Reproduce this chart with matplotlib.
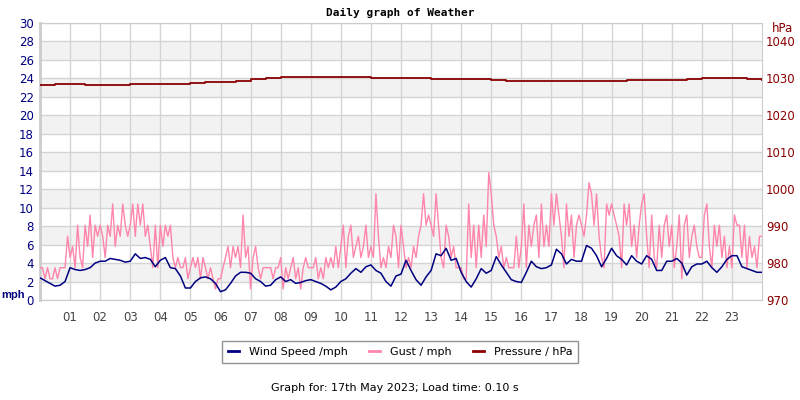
import matplotlib
matplotlib.use('Agg')
import matplotlib.pyplot as plt
import numpy as np

# Wind speed (mph), 10-minute readings, one row per hour
wind_speed = [
    2.4, 2.1, 1.8, 1.5, 1.6, 2.0,
    3.5, 3.3, 3.2, 3.3, 3.5, 4.0,
    4.2, 4.2, 4.5, 4.4, 4.3, 4.1,
    4.2, 5.0, 4.5, 4.6, 4.4, 3.6,
    4.3, 4.6, 3.5, 3.4, 2.6, 1.3,
    1.3, 2.0, 2.4, 2.5, 2.3, 1.8,
    0.9, 1.1, 1.8, 2.6, 3.0, 3.0,
    2.9, 2.3, 2.0, 1.5, 1.6, 2.2,
    2.5, 2.0, 2.2, 1.8, 1.9, 2.1,
    2.2, 2.0, 1.8, 1.5, 1.1, 1.4,
    2.0, 2.3, 2.9, 3.4, 3.0, 3.6,
    3.8, 3.2, 2.9, 2.0, 1.5, 2.6,
    2.8, 4.3, 3.2, 2.2, 1.6, 2.5,
    3.2, 5.0, 4.8, 5.6, 4.3, 4.5,
    3.0, 2.0, 1.4, 2.3, 3.4, 2.9,
    3.2, 4.7, 3.8, 3.0, 2.2, 2.0,
    1.9, 3.0, 4.2, 3.6, 3.4, 3.5,
    3.8, 5.5, 5.0, 3.9, 4.4, 4.2,
    4.2, 5.9, 5.6, 4.8, 3.6, 4.5,
    5.6, 4.8, 4.4, 3.8, 4.8, 4.2,
    3.9, 4.8, 4.4, 3.2, 3.2, 4.2,
    4.2, 4.5, 4.0, 2.7, 3.6, 3.9,
    3.9, 4.2, 3.5, 3.0, 3.6, 4.4,
    4.8, 4.8, 3.6, 3.4, 3.2, 3.0,
    3.0,
]

# Gust (mph), 5-minute readings, one row per hour
gust = [
    3.5, 3.5, 2.3, 3.5, 2.3, 2.3, 3.5, 2.3, 3.5, 3.5, 3.5, 6.9,
    4.6, 5.8, 3.5, 8.1, 4.6, 3.5, 8.1, 5.8, 9.2, 4.6, 8.1, 6.9,
    8.1, 6.9, 4.6, 8.1, 6.9, 10.4, 5.8, 8.1, 6.9, 10.4, 8.1, 6.9,
    8.1, 10.4, 6.9, 10.4, 8.1, 10.4, 6.9, 8.1, 5.8, 3.5, 8.1, 3.5,
    8.1, 5.8, 8.1, 6.9, 8.1, 4.6, 3.5, 4.6, 3.5, 3.5, 4.6, 2.3,
    3.5, 4.6, 3.5, 4.6, 2.3, 4.6, 3.5, 2.3, 3.5, 2.3, 1.2, 2.3,
    2.3, 3.5, 4.6, 5.8, 3.5, 5.8, 4.6, 5.8, 3.5, 9.2, 4.6, 5.8,
    1.2, 4.6, 5.8, 3.5, 2.3, 3.5, 3.5, 3.5, 3.5, 2.3, 3.5, 3.5,
    4.6, 1.2, 3.5, 2.3, 3.5, 4.6, 2.3, 3.5, 1.2, 3.5, 4.6, 3.5,
    3.5, 3.5, 4.6, 2.3, 3.5, 2.3, 4.6, 3.5, 4.6, 3.5, 5.8, 3.5,
    5.8, 8.1, 3.5, 6.9, 8.1, 4.6, 5.8, 6.9, 4.6, 5.8, 8.1, 4.6,
    5.8, 4.6, 11.5, 6.9, 3.5, 4.6, 3.5, 5.8, 4.6, 8.1, 6.9, 3.5,
    8.1, 5.8, 3.5, 4.6, 3.5, 5.8, 4.6, 6.9, 8.1, 11.5, 8.1, 9.2,
    8.1, 6.9, 11.5, 8.1, 4.6, 3.5, 8.1, 6.9, 4.6, 5.8, 3.5, 3.5,
    3.5, 2.3, 2.3, 10.4, 4.6, 8.1, 3.5, 8.1, 4.6, 9.2, 5.8, 13.8,
    11.5, 8.1, 6.9, 4.6, 5.8, 3.5, 4.6, 3.5, 3.5, 3.5, 6.9, 3.5,
    5.8, 10.4, 3.5, 8.1, 5.8, 8.1, 9.2, 4.6, 10.4, 5.8, 8.1, 5.8,
    11.5, 8.1, 11.5, 9.2, 6.9, 3.5, 10.4, 6.9, 9.2, 4.6, 8.1, 9.2,
    8.1, 6.9, 9.2, 12.7, 11.5, 8.1, 11.5, 6.9, 4.6, 3.5, 10.4, 9.2,
    10.4, 9.2, 8.1, 6.9, 3.5, 10.4, 8.1, 10.4, 5.8, 8.1, 4.6, 8.1,
    10.4, 11.5, 6.9, 3.5, 9.2, 4.6, 3.5, 8.1, 4.6, 8.1, 9.2, 5.8,
    8.1, 3.5, 5.8, 9.2, 2.3, 8.1, 9.2, 4.6, 6.9, 8.1, 5.8, 4.6,
    4.6, 9.2, 10.4, 5.8, 3.5, 8.1, 5.8, 8.1, 4.6, 6.9, 3.5, 5.8,
    3.5, 9.2, 8.1, 8.1, 4.6, 8.1, 3.5, 6.9, 4.6, 5.8, 3.5, 6.9,
    6.9,
]

# Pressure (hPa), half-hourly readings
pressure = [
    1028.2, 1028.4, 1028.4, 1028.3, 1028.2, 1028.2, 1028.4, 1028.4,
    1028.4, 1028.6, 1028.7, 1028.9, 1029.1, 1029.4, 1029.8, 1030.2,
    1030.3, 1030.3, 1030.3, 1030.3, 1030.3, 1030.3, 1030.1, 1030.1,
    1030.1, 1030.0, 1029.9, 1029.9, 1029.9, 1029.8, 1029.5, 1029.3,
    1029.2, 1029.2, 1029.2, 1029.2, 1029.3, 1029.4, 1029.4, 1029.5,
    1029.6, 1029.7, 1029.7, 1029.8, 1030.1, 1030.2, 1030.0, 1029.8,
    1029.7,
]

hour_labels = ['%02d' % h for h in range(1, 24)]
mph_ticks = list(range(0, 31, 2))
hpa_ticks = list(range(970, 1041, 10))

t_wind = np.linspace(0, 24, len(wind_speed))
t_gust = np.linspace(0, 24, len(gust))
t_pres = np.linspace(0, 24, len(pressure))

navy = '#000080'
pink = '#ff85aa'
maroon = '#8b0000'
grid_c = '#d4d4d4'

fig = plt.figure(figsize=(8, 4), dpi=100)
ax = fig.add_axes([0.05, 0.25, 0.9025, 0.6925])

# alternating bands
for lo in range(2, 30, 4):
    ax.axhspan(lo, lo + 2, color='#f2f2f2', zorder=0, lw=0)
for y in mph_ticks:
    ax.axhline(y, color=grid_c, lw=1, zorder=1)
for h in range(1, 24):
    ax.axvline(h, color=grid_c, lw=1, zorder=1)

ax.plot(t_gust, gust, color=pink, lw=1, zorder=3, label='Gust / mph')
ax.plot(t_wind, wind_speed, color=navy, lw=1.1, zorder=4, label='Wind Speed /mph')

ax.set_xlim(0, 24)
ax.set_ylim(0, 30)
ax.set_yticks(mph_ticks)
ax.set_xticks(range(1, 24))
ax.set_xticklabels(hour_labels)
ax.tick_params(axis='x', length=0, pad=8, labelsize=8.5, labelcolor='#444444')
ax.tick_params(axis='y', length=0, pad=4.5, labelsize=8.5, labelcolor=navy)
for s in ax.spines.values():
    s.set_color('#cccccc')
ax.spines['left'].set_linewidth(2)

ax2 = ax.twinx()
ax2.plot(t_pres, pressure, color=maroon, lw=1.3, drawstyle='steps-post', label='Pressure / hPa')
ax2.set_ylim(970, 1045)
ax2.set_yticks(hpa_ticks)
ax2.tick_params(axis='y', length=0, pad=3, labelsize=8.5, labelcolor=maroon)
for s in ax2.spines.values():
    s.set_visible(False)

fig.text(0.5, 0.967, 'Daily graph of Weather', ha='center', va='center',
         family='DejaVu Sans Mono', weight='bold', fontsize=8)
fig.text(0.002, 0.262, 'mph', ha='left', va='center', color=navy,
         family='Liberation Sans', weight='bold', fontsize=8)
fig.text(0.965, 0.928, 'hPa', ha='left', va='center', color=maroon, fontsize=8.5)

h1, l1 = ax.get_legend_handles_labels()
h2, l2 = ax2.get_legend_handles_labels()
handles = [h1[1], h1[0], h2[0]]
labels = [l1[1], l1[0], l2[0]]
leg = fig.legend(handles, labels, loc='center', bbox_to_anchor=(0.5, 0.12), ncol=3,
                 fontsize=8, frameon=True, fancybox=False, handlelength=1.0,
                 columnspacing=1.9, handletextpad=0.9, borderpad=0.5)
leg.get_frame().set_edgecolor('#777777')
leg.get_frame().set_linewidth(1)
for ln in leg.get_lines():
    ln.set_linewidth(2)

fig.text(0.494, 0.03, 'Graph for: 17th May 2023; Load time: 0.10 s', ha='center',
         va='center', fontsize=8)

fig.savefig('out.png', dpi=100)
